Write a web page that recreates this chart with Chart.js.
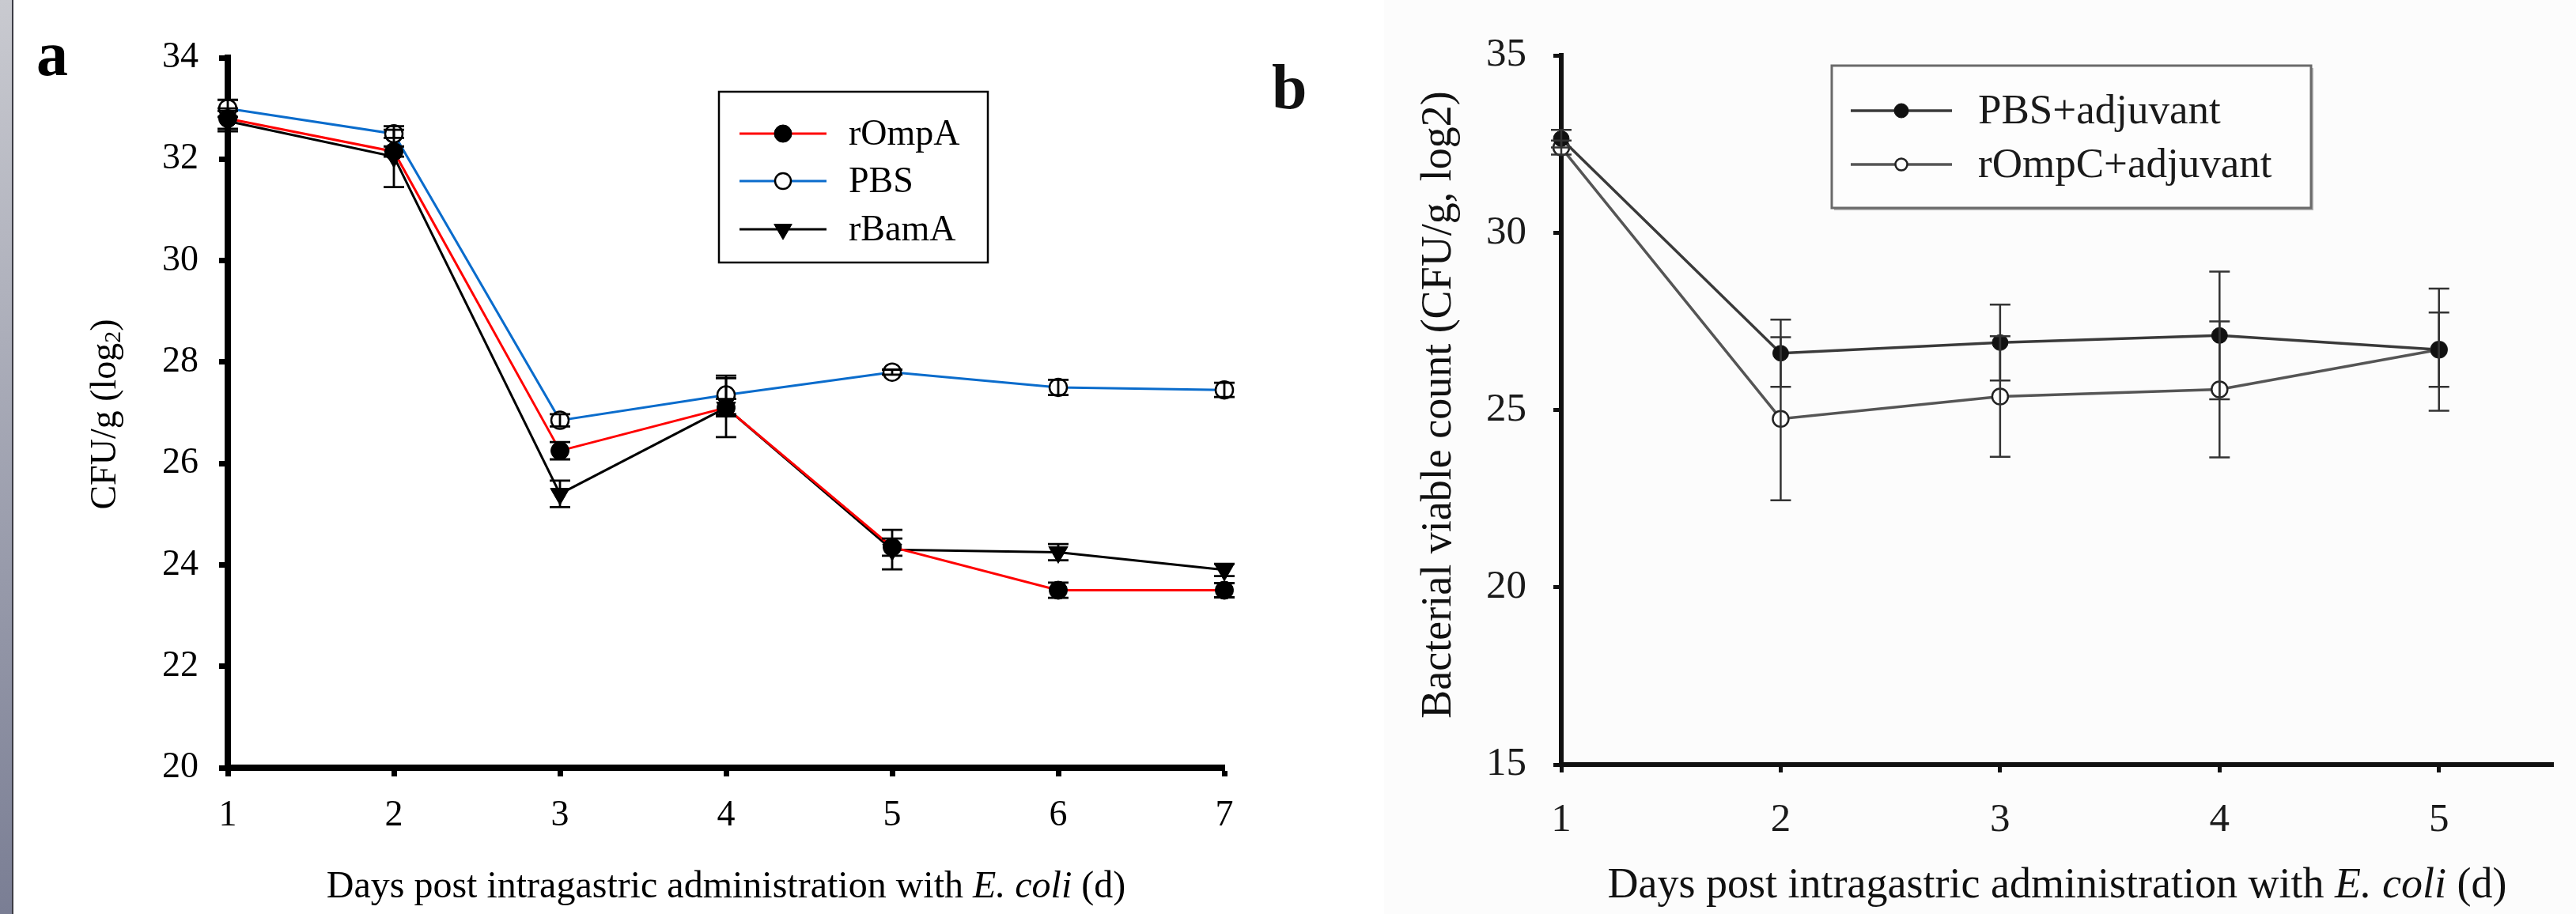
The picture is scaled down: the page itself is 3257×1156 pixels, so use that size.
<!DOCTYPE html>
<html>
<head>
<meta charset="utf-8">
<title>CFU counts after E. coli challenge</title>
<script src="https://cdn.jsdelivr.net/npm/chart.js@4.4.1/dist/chart.umd.min.js"></script>
<style>
  html, body { margin: 0; padding: 0; background: #fff; }
  body { width: 3257px; height: 1156px; position: relative; overflow: hidden; }
  #edge { position: absolute; left: 0; top: 0; width: 15px; height: 1156px;
          background: linear-gradient(#c9cad0, #7a7e94); border-right: 2px solid #3c3c44; }
  #shadeB { position: absolute; left: 1750px; top: 0; width: 1507px; height: 1156px; background: #fcfcfc; }
  canvas { position: absolute; top: 0; }
  #chartA { left: 17px; }
  #chartB { left: 1600px; filter: blur(0.7px); }
</style>
</head>
<body>
<div id="edge"></div>
<div id="shadeB"></div>
<canvas id="chartA" width="1583" height="1156"></canvas>
<canvas id="chartB" width="1657" height="1156"></canvas>
<script>
// ============ Data ============
// panel a: immunised groups, days 1-7
const daysA = [1, 2, 3, 4, 5, 6, 7];
const rOmpA = [32.8, 32.15, 26.25, 27.1, 24.35, 23.5, 23.5];
const rOmpAErr = [0.2, 0.1, 0.17, 0.17, 0.17, 0.15, 0.14];
const pbsA = [33.0, 32.5, 26.85, 27.35, 27.8, 27.5, 27.45];
const pbsAErr = [0.17, 0.08, 0.12, 0.38, 0.05, 0.15, 0.14];
const rBamA = [32.75, 32.05, 25.4, 27.1, 24.3, 24.25, 23.9];
const rBamAErr = [0.2, 0.6, 0.26, 0.58, 0.39, 0.16, 0.12];
const yTicksA = [20, 22, 24, 26, 28, 30, 32, 34];

// panel b: adjuvant groups, days 1-5
const daysB = [1, 2, 3, 4, 5];
const pbsAdj = [32.65, 26.6, 26.9, 27.1, 26.7];
const pbsAdjErr = [0.25, 0.95, 1.07, 1.8, 1.05];
const rOmpCAdj = [32.4, 24.75, 25.38, 25.58, 26.7];
const rOmpCAdjErr = [0.2, 2.3, 1.7, 1.92, 1.72];
const yTicksB = [15, 20, 25, 30, 35];
const xTicksB = [1, 2, 3, 4, 5];

const serif = '"Liberation Serif", "Times New Roman", serif';
Chart.defaults.font.family = serif;
Chart.defaults.color = '#000';

function pts(xs, ys) { return xs.map((x, i) => ({ x, y: ys[i] })); }

// ============ Helpers ============
function marker(ctx, ds, r, x, y) {
    ctx.fillStyle = ds.pointBackgroundColor;
    ctx.strokeStyle = ds.pointBorderColor;
    ctx.lineWidth = ds.pointBorderWidth;
    ctx.beginPath();
    if (ds.pointStyle === 'triangle') {
        // pointing down, same as pointRotation 180
        for (let k = 0; k < 3; k++) {
            const a = Math.PI + k * 2 * Math.PI / 3;
            const px = x + Math.sin(a) * r, py = y - Math.cos(a) * r;
            k ? ctx.lineTo(px, py) : ctx.moveTo(px, py);
        }
        ctx.closePath();
    } else {
        ctx.arc(x, y, r, 0, Math.PI * 2);
    }
    ctx.fill();
    if (ds.pointBorderWidth) ctx.stroke();
}

function drawRuns(ctx, runs, cx, cy) {
    let w = 0;
    runs.forEach(r => { ctx.font = r.font; w += ctx.measureText(r.text).width; });
    let x = cx - w / 2;
    ctx.textAlign = 'left';
    runs.forEach(r => {
        ctx.font = r.font;
        ctx.fillText(r.text, x, cy + (r.dy || 0));
        x += ctx.measureText(r.text).width;
    });
}

// ============ Plugins ============
const errorBars = {
    id: 'errorBars',
    afterDatasetsDraw(chart, args, o) {
        const ctx = chart.ctx, xs = chart.scales.x, ys = chart.scales.y;
        ctx.save();
        ctx.strokeStyle = o.color;
        ctx.lineWidth = o.width;
        chart.data.datasets.forEach(ds => {
            ds.data.forEach((p, i) => {
                const e = ds.errors[i];
                const px = xs.getPixelForValue(p.x);
                const top = ys.getPixelForValue(p.y + e), bot = ys.getPixelForValue(p.y - e);
                ctx.beginPath();
                ctx.moveTo(px, top); ctx.lineTo(px, bot);
                ctx.moveTo(px - o.cap, top); ctx.lineTo(px + o.cap, top);
                ctx.moveTo(px - o.cap, bot); ctx.lineTo(px + o.cap, bot);
                ctx.stroke();
            });
        });
        ctx.restore();
    }
};

const boxLegend = {
    id: 'boxLegend',
    afterDraw(chart, args, o) {
        const ctx = chart.ctx;
        ctx.save();
        if (o.shadow) {
            ctx.fillStyle = o.shadow;
            ctx.fillRect(o.left + 3, o.top + 3, o.width, o.height);
        }
        ctx.fillStyle = o.fill;
        ctx.fillRect(o.left, o.top, o.width, o.height);
        ctx.strokeStyle = o.border;
        ctx.lineWidth = o.borderWidth;
        ctx.strokeRect(o.left, o.top, o.width, o.height);
        chart.data.datasets.forEach((ds, i) => {
            const cy = o.rows[i];
            ctx.strokeStyle = ds.borderColor;
            ctx.lineWidth = ds.borderWidth;
            ctx.beginPath();
            ctx.moveTo(o.lineFrom, cy); ctx.lineTo(o.lineTo, cy);
            ctx.stroke();
            marker(ctx, ds, o.radius[i], (o.lineFrom + o.lineTo) / 2, cy);
            ctx.fillStyle = o.color;
            ctx.font = o.fontSize + 'px ' + serif;
            ctx.textAlign = 'left';
            ctx.textBaseline = 'middle';
            ctx.fillText(ds.label, o.textX, cy + 2);
        });
        ctx.restore();
    }
};

const captions = {
    id: 'captions',
    afterDraw(chart, args, o) {
        const ctx = chart.ctx, ca = chart.chartArea;
        ctx.save();
        ctx.fillStyle = o.color;
        ctx.textBaseline = 'alphabetic';
        ctx.font = 'bold ' + o.letterSize + 'px ' + serif;
        ctx.textAlign = 'left';
        ctx.fillText(o.letter, o.letterX, o.letterY);
        drawRuns(ctx, o.xTitle, (ca.left + ca.right) / 2, o.xTitleY);
        ctx.translate(o.yTitleX, o.yTitleY);
        ctx.rotate(-Math.PI / 2);
        ctx.textBaseline = 'middle';
        drawRuns(ctx, o.yTitle, 0, 0);
        ctx.restore();
    }
};

function xTitleRuns(size) {
    const f = size + 'px ' + serif;
    return [
        { text: 'Days post intragastric administration with ', font: f },
        { text: 'E. coli', font: 'italic ' + f },
        { text: ' (d)', font: f }
    ];
}

function axis(o) {
    return {
        type: 'linear',
        min: o.min, max: o.max,
        afterBuildTicks(s) { s.ticks = o.ticks.map(v => ({ value: v })); },
        afterFit(s) { if (o.size) { s.isHorizontal() ? s.height = o.size : s.width = o.size; } },
        grid: { drawOnChartArea: false, drawTicks: true, tickLength: o.tickLength, tickWidth: o.tickWidth, tickColor: o.color },
        border: { display: true, color: o.color, width: o.lineWidth },
        ticks: { font: { size: o.fontSize }, color: o.textColor, padding: o.padding }
    };
}

// ============ Panel a ============
new Chart(document.getElementById('chartA'), {
    type: 'line',
    data: {
        datasets: [
            { label: 'rOmpA', data: pts(daysA, rOmpA), errors: rOmpAErr,
              borderColor: '#ff0000', borderWidth: 3, pointStyle: 'circle', pointRadius: 11.5,
              pointBackgroundColor: '#000', pointBorderColor: '#000', pointBorderWidth: 1 },
            { label: 'PBS', data: pts(daysA, pbsA), errors: pbsAErr,
              borderColor: '#0a6ccc', borderWidth: 3, pointStyle: 'circle', pointRadius: 11,
              pointBackgroundColor: '#fff', pointBorderColor: '#000', pointBorderWidth: 2.5 },
            { label: 'rBamA', data: pts(daysA, rBamA), errors: rBamAErr,
              borderColor: '#000', borderWidth: 3, pointStyle: 'triangle', pointRotation: 180, pointRadius: 14,
              pointBackgroundColor: '#000', pointBorderColor: '#000', pointBorderWidth: 1 }
        ]
    },
    options: {
        responsive: false,
        animation: false,
        clip: false,
        layout: { padding: { left: 0, top: 73, right: 52, bottom: 0 } },
        scales: {
            x: axis({ min: 1, max: 7, ticks: daysA, size: 185, tickLength: 11, tickWidth: 7, lineWidth: 8,
                      color: '#000', textColor: '#000', fontSize: 46, padding: 22 }),
            y: axis({ min: 20, max: 34, ticks: yTicksA, size: 271, tickLength: 11, tickWidth: 7, lineWidth: 8,
                      color: '#000', textColor: '#000', fontSize: 46, padding: 26 })
        },
        plugins: {
            legend: { display: false },
            tooltip: { enabled: false },
            errorBars: { color: '#000', width: 2.8, cap: 13 },
            boxLegend: { left: 892, top: 116, width: 340, height: 216, fill: '#fff', border: '#000', borderWidth: 2.5,
                         rows: [169, 229, 290], lineFrom: 918, lineTo: 1028, radius: [11, 10, 13],
                         textX: 1056, fontSize: 46, color: '#000' },
            captions: { color: '#000', letter: 'a', letterSize: 80, letterX: 29, letterY: 95,
                        xTitle: xTitleRuns(48), xTitleY: 1135,
                        yTitleX: 117, yTitleY: 524,
                        yTitle: [
                            { text: 'CFU/g (log', font: '46px ' + serif },
                            { text: '2', font: '30px ' + serif, dy: 10 },
                            { text: ')', font: '46px ' + serif }
                        ] }
        }
    },
    plugins: [errorBars, boxLegend, captions]
});

// ============ Panel b ============
new Chart(document.getElementById('chartB'), {
    type: 'line',
    data: {
        datasets: [
            { label: 'PBS+adjuvant', data: pts(daysB, pbsAdj), errors: pbsAdjErr,
              borderColor: '#3a3a3a', borderWidth: 3.5, pointStyle: 'circle', pointRadius: 10,
              pointBackgroundColor: '#111', pointBorderColor: '#111', pointBorderWidth: 1 },
            { label: 'rOmpC+adjuvant', data: pts(daysB, rOmpCAdj), errors: rOmpCAdjErr,
              borderColor: '#555', borderWidth: 3.5, pointStyle: 'circle', pointRadius: 10,
              pointBackgroundColor: '#fff', pointBorderColor: '#222', pointBorderWidth: 2.5 }
        ]
    },
    options: {
        responsive: false,
        animation: false,
        clip: false,
        layout: { padding: { left: 0, top: 70, right: 29, bottom: 0 } },
        scales: {
            x: axis({ min: 1, max: 5.52, ticks: xTicksB, size: 189, tickLength: 10, tickWidth: 5, lineWidth: 6,
                      color: '#111', textColor: '#1a1a1a', fontSize: 51, padding: 30 }),
            y: axis({ min: 15, max: 35, ticks: yTicksB, size: 374, tickLength: 10, tickWidth: 5, lineWidth: 6,
                      color: '#111', textColor: '#1a1a1a', fontSize: 51, padding: 34 })
        },
        plugins: {
            legend: { display: false },
            tooltip: { enabled: false },
            errorBars: { color: '#333', width: 2.5, cap: 13 },
            boxLegend: { left: 716, top: 83, width: 606, height: 180, fill: '#fdfdfd', border: '#6a6a6a', borderWidth: 3,
                         shadow: '#b5b5b5', rows: [140, 208], lineFrom: 740, lineTo: 868, radius: [9, 7.5],
                         textX: 901, fontSize: 53, color: '#1a1a1a' },
            captions: { color: '#111', letter: 'b', letterSize: 80, letterX: 8, letterY: 137,
                        xTitle: xTitleRuns(54), xTitleY: 1135,
                        yTitleX: 220, yTitleY: 512,
                        yTitle: [{ text: 'Bacterial viable count (CFU/g, log2)', font: '54px ' + serif }] }
        }
    },
    plugins: [errorBars, boxLegend, captions]
});
</script>
</body>
</html>
